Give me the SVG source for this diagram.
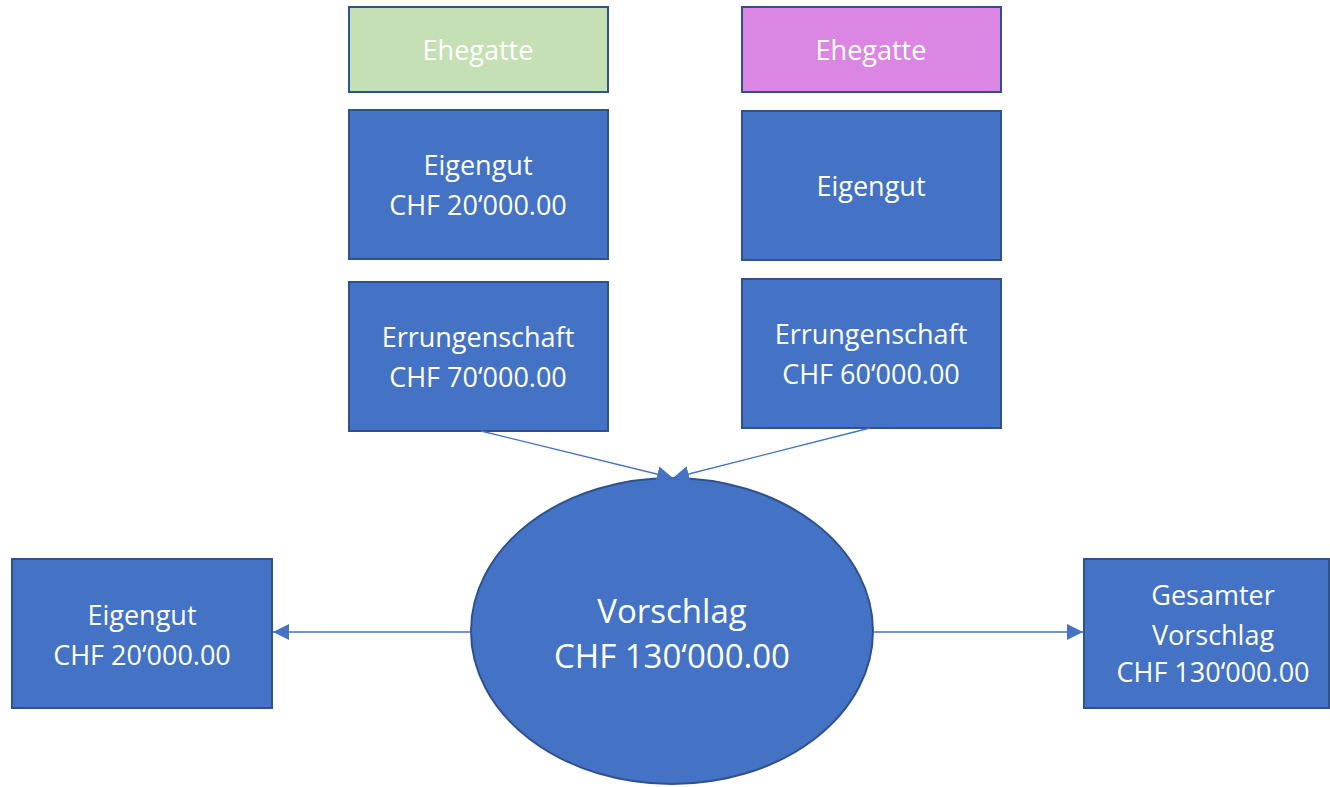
<svg xmlns="http://www.w3.org/2000/svg" width="1330" height="787" viewBox="0 0 1330 787">
<style>
.box{fill:#4472C4;stroke:#2F528F;stroke-width:2}
.t{font-family:"Open Sans","Noto Sans",sans-serif;font-size:27px;fill:#FFFFFF;text-anchor:middle}
.big{font-size:33px}
.c{stroke:#4472C4;stroke-width:1.3;fill:none}
</style>
<defs>
<marker id="ah2" viewBox="0 0 16 16" refX="16" refY="8" markerWidth="16" markerHeight="16" markerUnits="userSpaceOnUse" orient="auto">
<path d="M0,0 L16,8 L0,16 z" fill="#4472C4"/>
</marker>
</defs>
<g id="n-ehegatte1"><rect x="349" y="7" width="259" height="85" class="box" style="fill:#C5E0B4"/><text x="478" y="60" class="t">Ehegatte</text></g>
<g id="n-ehegatte2"><rect x="742" y="7" width="259" height="85" class="box" style="fill:#DA86E2"/><text x="871" y="60" class="t">Ehegatte</text></g>
<g id="n-eigengut1"><rect x="349" y="110" width="259" height="149" class="box"/><text x="478" y="175" class="t">Eigengut</text><text x="478" y="215" class="t">CHF 20‘000.00</text></g>
<g id="n-eigengut2"><rect x="742" y="111" width="259" height="149" class="box"/><text x="871" y="196" class="t">Eigengut</text></g>
<g id="n-err1"><rect x="349" y="282" width="259" height="149" class="box"/><text x="478" y="347" class="t">Errungenschaft</text><text x="478" y="387" class="t">CHF 70‘000.00</text></g>
<g id="n-err2"><rect x="742" y="279" width="259" height="149" class="box"/><text x="871" y="344" class="t">Errungenschaft</text><text x="871" y="384" class="t">CHF 60‘000.00</text></g>
<g id="n-vorschlag"><ellipse cx="672" cy="631" rx="201" ry="153" class="box"/><text x="672" y="623" class="t big">Vorschlag</text><text x="672" y="668" class="t big">CHF 130‘000.00</text></g>
<g id="n-eigengut3"><rect x="12" y="559" width="260" height="149" class="box"/><text x="142" y="625" class="t">Eigengut</text><text x="142" y="665" class="t">CHF 20‘000.00</text></g>
<g id="n-gesamt"><rect x="1084" y="559" width="245" height="149" class="box"/><text x="1213" y="605" class="t">Gesamter</text><text x="1213" y="645" class="t">Vorschlag</text><text x="1213" y="682" class="t">CHF 130‘000.00</text></g>
<g id="connectors">
<line x1="481" y1="431" x2="673" y2="478" class="c" marker-end="url(#ah2)"/>
<line x1="870" y1="428" x2="673" y2="478" class="c" marker-end="url(#ah2)"/>
<line x1="471" y1="632" x2="273" y2="632" class="c" marker-end="url(#ah2)"/>
<line x1="873" y1="632" x2="1083" y2="632" class="c" marker-end="url(#ah2)"/>
</g>
</svg>
